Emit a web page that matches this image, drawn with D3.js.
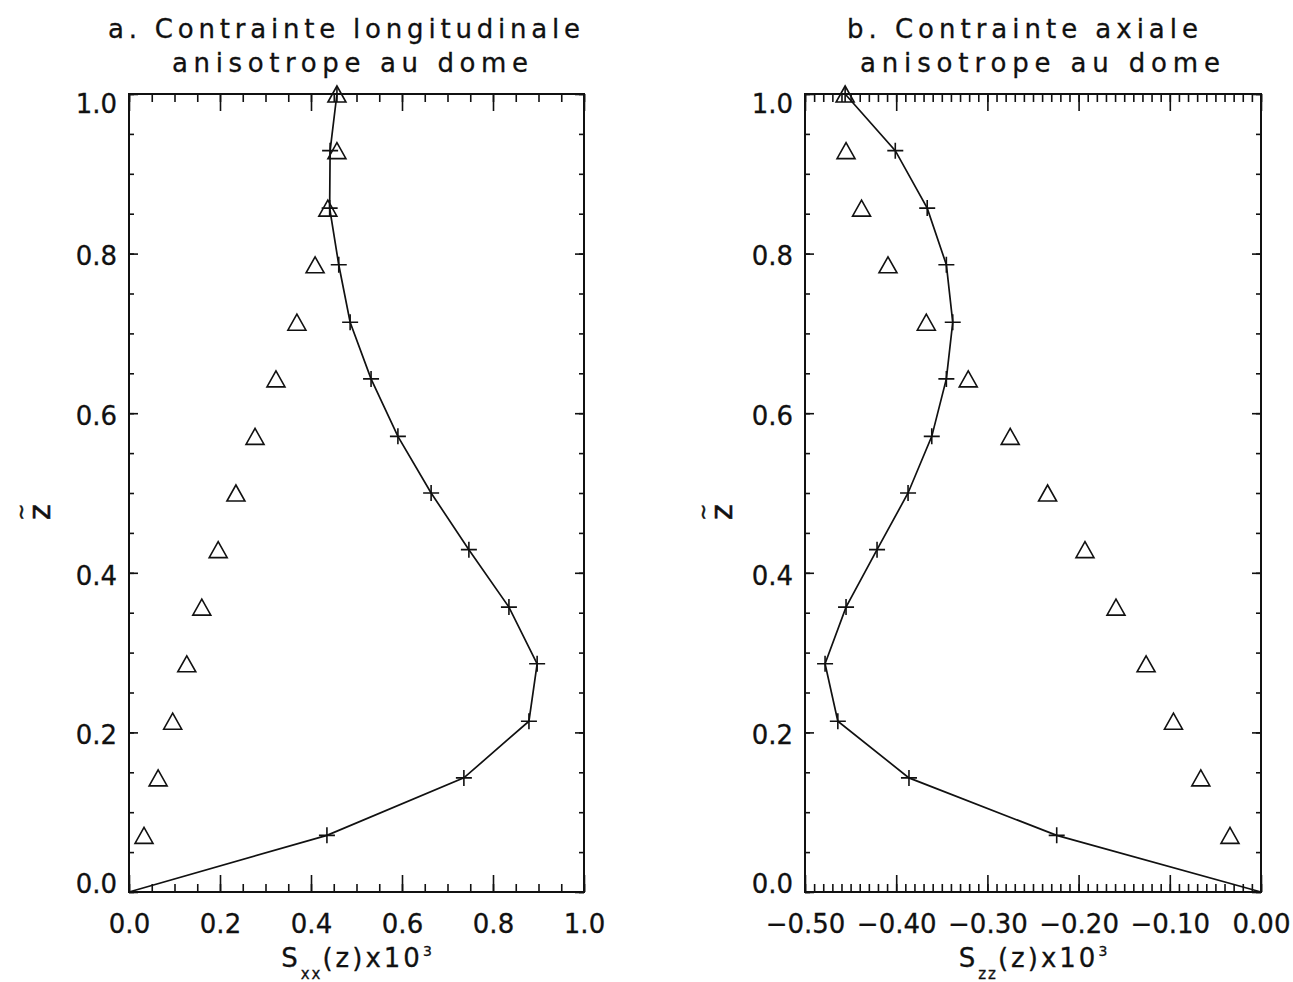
<!DOCTYPE html>
<html><head><meta charset="utf-8">
<script src="https://cdn.jsdelivr.net/npm/d3@7"></script>
<style>body{margin:0;background:#fff}</style>
</head><body><svg id="c" width="1293" height="982"></svg>
<script>
// ---- data ----
const zLevels = [0, 0.071, 0.143, 0.214, 0.286, 0.357, 0.429, 0.500, 0.571, 0.643, 0.714, 0.786, 0.857, 0.929, 1.000];
// model curve (line + crosses), index 0 is the origin
const sxxModel = [0, 0.435, 0.736, 0.879, 0.897, 0.835, 0.747, 0.664, 0.591, 0.532, 0.486, 0.461, 0.441, 0.442, 0.457];
// triangles, levels 1..14
const sxxTriangles = [0.033, 0.064, 0.096, 0.127, 0.160, 0.196, 0.235, 0.277, 0.323, 0.369, 0.409, 0.437, 0.457, 0.457];
const szzModel = [0, -0.224, -0.386, -0.464, -0.478, -0.455, -0.421, -0.387, -0.361, -0.345, -0.338, -0.345, -0.366, -0.401, -0.456];
const szzTriangles = [-0.034, -0.066, -0.096, -0.126, -0.159, -0.193, -0.234, -0.275, -0.321, -0.367, -0.409, -0.438, -0.455, -0.456];
const titleA = ["a. Contrainte longitudinale", "anisotrope au dome"];
const titleB = ["b. Contrainte axiale", "anisotrope au dome"];
const xTicksA = [0, 0.2, 0.4, 0.6, 0.8, 1.0];
const xTicksB = [-0.5, -0.4, -0.3, -0.2, -0.1, 0];
const yTicks = [0, 0.2, 0.4, 0.6, 0.8, 1.0];
const xLabelSub = ["xx", "zz"];

const svg = d3.select("#c");
const FONT = "DejaVu Sans";
const yTop = 94, yBottom = 892;

function drawPanel(o) {
  const x = d3.scaleLinear().domain(o.xDomain).range([o.left, o.right]);
  const y = d3.scaleLinear().domain([0, 1]).range([yBottom, yTop]);
  const g = svg.append("g");

  const minorX = x.ticks(o.minorCount);
  const minorY = y.ticks(20);
  const styleAxis = sel => {
    sel.select(".domain").remove();
    sel.selectAll("line").attr("stroke", "#111").attr("stroke-width", 1.6);
  };
  g.append("g").attr("transform", `translate(0,${yBottom})`)
    .call(d3.axisBottom(x).tickValues(minorX).tickSize(-8).tickFormat("")).call(styleAxis);
  g.append("g").attr("transform", `translate(0,${yTop})`)
    .call(d3.axisTop(x).tickValues(minorX).tickSize(-8).tickFormat("")).call(styleAxis);
  g.append("g").attr("transform", `translate(${o.left},0)`)
    .call(d3.axisLeft(y).tickValues(minorY).tickSize(-5).tickFormat("")).call(styleAxis);
  g.append("g").attr("transform", `translate(${o.right},0)`)
    .call(d3.axisRight(y).tickValues(minorY).tickSize(-5).tickFormat("")).call(styleAxis);

  const bx = g.append("g").attr("transform", `translate(0,${yBottom})`)
    .call(d3.axisBottom(x).tickValues(o.xTicks).tickSize(-17).tickPadding(23).tickFormat(d3.format(o.fmt)))
    .call(styleAxis);
  g.append("g").attr("transform", `translate(0,${yTop})`)
    .call(d3.axisTop(x).tickValues(o.xTicks).tickSize(-17).tickFormat("")).call(styleAxis);
  const ly = g.append("g").attr("transform", `translate(${o.left},0)`)
    .call(d3.axisLeft(y).tickValues(yTicks).tickSize(-9).tickPadding(12).tickFormat(d3.format(".1f")))
    .call(styleAxis);
  g.append("g").attr("transform", `translate(${o.right},0)`)
    .call(d3.axisRight(y).tickValues(yTicks).tickSize(-9).tickFormat("")).call(styleAxis);

  [bx, ly].forEach(a => a.selectAll("text")
    .attr("font-family", FONT).attr("font-size", 26).attr("fill", "#111")
    .attr("stroke", "#111").attr("stroke-width", 0.3));
  ly.selectAll("text").attr("transform", d => `translate(0,${d === 1 ? 10 : d === 0 ? -8 : 3})`);

  g.append("rect").attr("x", o.left).attr("y", yTop)
    .attr("width", o.right - o.left).attr("height", yBottom - yTop)
    .attr("fill", "none").attr("stroke", "#111").attr("stroke-width", 2);

  const pts = o.model.map((v, i) => [v, zLevels[i]]);
  g.append("path").datum(pts)
    .attr("d", d3.line().x(d => x(d[0])).y(d => y(d[1])))
    .attr("fill", "none").attr("stroke", "#111").attr("stroke-width", 1.7);

  g.selectAll(".cross").data(pts.slice(1)).join("path")
    .attr("d", d => { const cx = x(d[0]), cy = y(d[1]);
      return `M${cx - 8},${cy}H${cx + 8}M${cx},${cy - 8}V${cy + 8}`; })
    .attr("stroke", "#111").attr("stroke-width", 1.6).attr("fill", "none");

  const tri = o.tri.map((v, i) => [v, zLevels[i + 1]]);
  g.selectAll(".tri").data(tri).join("path")
    .attr("d", d => { const cx = x(d[0]), cy = y(d[1]);
      return `M${cx - 9},${cy + 8}L${cx + 9},${cy + 8}L${cx},${cy - 8}Z`; })
    .attr("stroke", "#111").attr("stroke-width", 1.6).attr("fill", "none");

  o.title.forEach((t, i) => {
    svg.append("text").attr("x", o.titlePos[i][0]).attr("y", o.titlePos[i][1])
      .attr("textLength", o.titlePos[i][2]).attr("lengthAdjust", "spacing")
      .attr("font-family", FONT).attr("font-size", 26).attr("fill", "#111")
      .attr("stroke", "#111").attr("stroke-width", 0.3).text(t);
  });

  const xl = svg.append("text").attr("x", (o.left + o.right) / 2).attr("y", 967)
    .attr("text-anchor", "middle").attr("font-family", FONT).attr("fill", "#111")
    .attr("stroke", "#111").attr("stroke-width", 0.3);
  xl.append("tspan").attr("font-size", 26).attr("letter-spacing", 3).text("S");
  xl.append("tspan").attr("font-size", 15).attr("dy", 12).attr("letter-spacing", 2).text(o.sub);
  xl.append("tspan").attr("font-size", 26).attr("dy", -12).attr("letter-spacing", 3).text("(z)x10");
  xl.append("tspan").attr("font-size", 14).attr("dy", -11).text("3");

  const yl = svg.append("g").attr("transform", "rotate(-90)");
  yl.append("text").attr("x", -512).attr("y", o.yLabX).attr("text-anchor", "middle")
    .attr("font-family", FONT).attr("font-size", 30).attr("fill", "#111")
    .attr("stroke", "#111").attr("stroke-width", 0.5).text("z");
  yl.append("text").attr("x", -512).attr("y", o.yLabX - 22).attr("text-anchor", "middle")
    .attr("font-family", FONT).attr("font-size", 20).attr("fill", "#111")
    .attr("stroke", "#111").attr("stroke-width", 0.5).text("~");
}

drawPanel({
  left: 129, right: 584, xDomain: [0, 1], xTicks: xTicksA, minorCount: 20, fmt: ".1f",
  model: sxxModel, tri: sxxTriangles, title: titleA,
  titlePos: [[108, 38, 472], [172, 72, 356]], sub: xLabelSub[0], yLabX: 50
});
drawPanel({
  left: 805, right: 1261, xDomain: [-0.5, 0], xTicks: xTicksB, minorCount: 50, fmt: ".2f",
  model: szzModel, tri: szzTriangles, title: titleB,
  titlePos: [[847, 38, 351], [860, 72, 360]], sub: xLabelSub[1], yLabX: 732
});
</script></body></html>
